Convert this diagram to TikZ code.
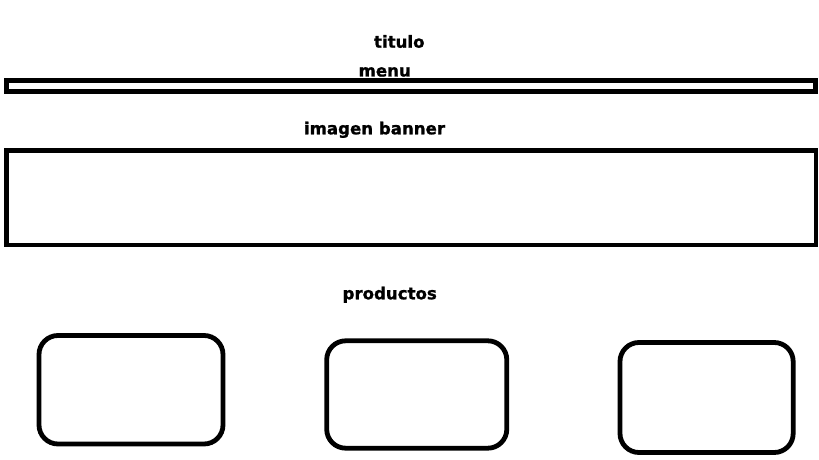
\documentclass[tikz,border=0pt]{standalone}
\usepackage{fontspec}
\setmainfont{DejaVu Sans}
\newfontface\heavyface{DejaVu Sans Bold}[FakeBold=1.2]
\begin{document}
\begin{tikzpicture}[x=1pt,y=-1pt,
  lbl/.style={font=\heavyface\fontsize{16.6}{18}\selectfont, inner sep=0pt, anchor=base},
  frame/.style={draw=black, line width=4.8pt, inner sep=0pt, outer sep=0pt},
  prodbox/.style={frame, rounded corners=19pt}]
\useasboundingbox[fill=white] (0,0) rectangle (819,460);
\node[lbl] (titulo) at (399.3,47.7) {titulo};
\node[lbl] (menu) at (384.7,76.5) {menu};
\node[frame, minimum width=809pt, minimum height=10.8pt] (menubar) at (411,85.9) {};
\node[lbl] (bannerlbl) at (374.5,134.3) {imagen banner};
\node[frame, minimum width=809.5pt, minimum height=94.3pt] (banner) at (411.25,197.85) {};
\node[lbl] (productos) at (389.7,299.3) {productos};
\node[prodbox, minimum width=184pt, minimum height=108.5pt] (p1) at (131,389.75) {};
\node[prodbox, minimum width=180.1pt, minimum height=107.4pt] (p2) at (416.75,394.5) {};
\node[prodbox, minimum width=173.2pt, minimum height=110pt] (p3) at (706.6,397.5) {};
\end{tikzpicture}
\end{document}
